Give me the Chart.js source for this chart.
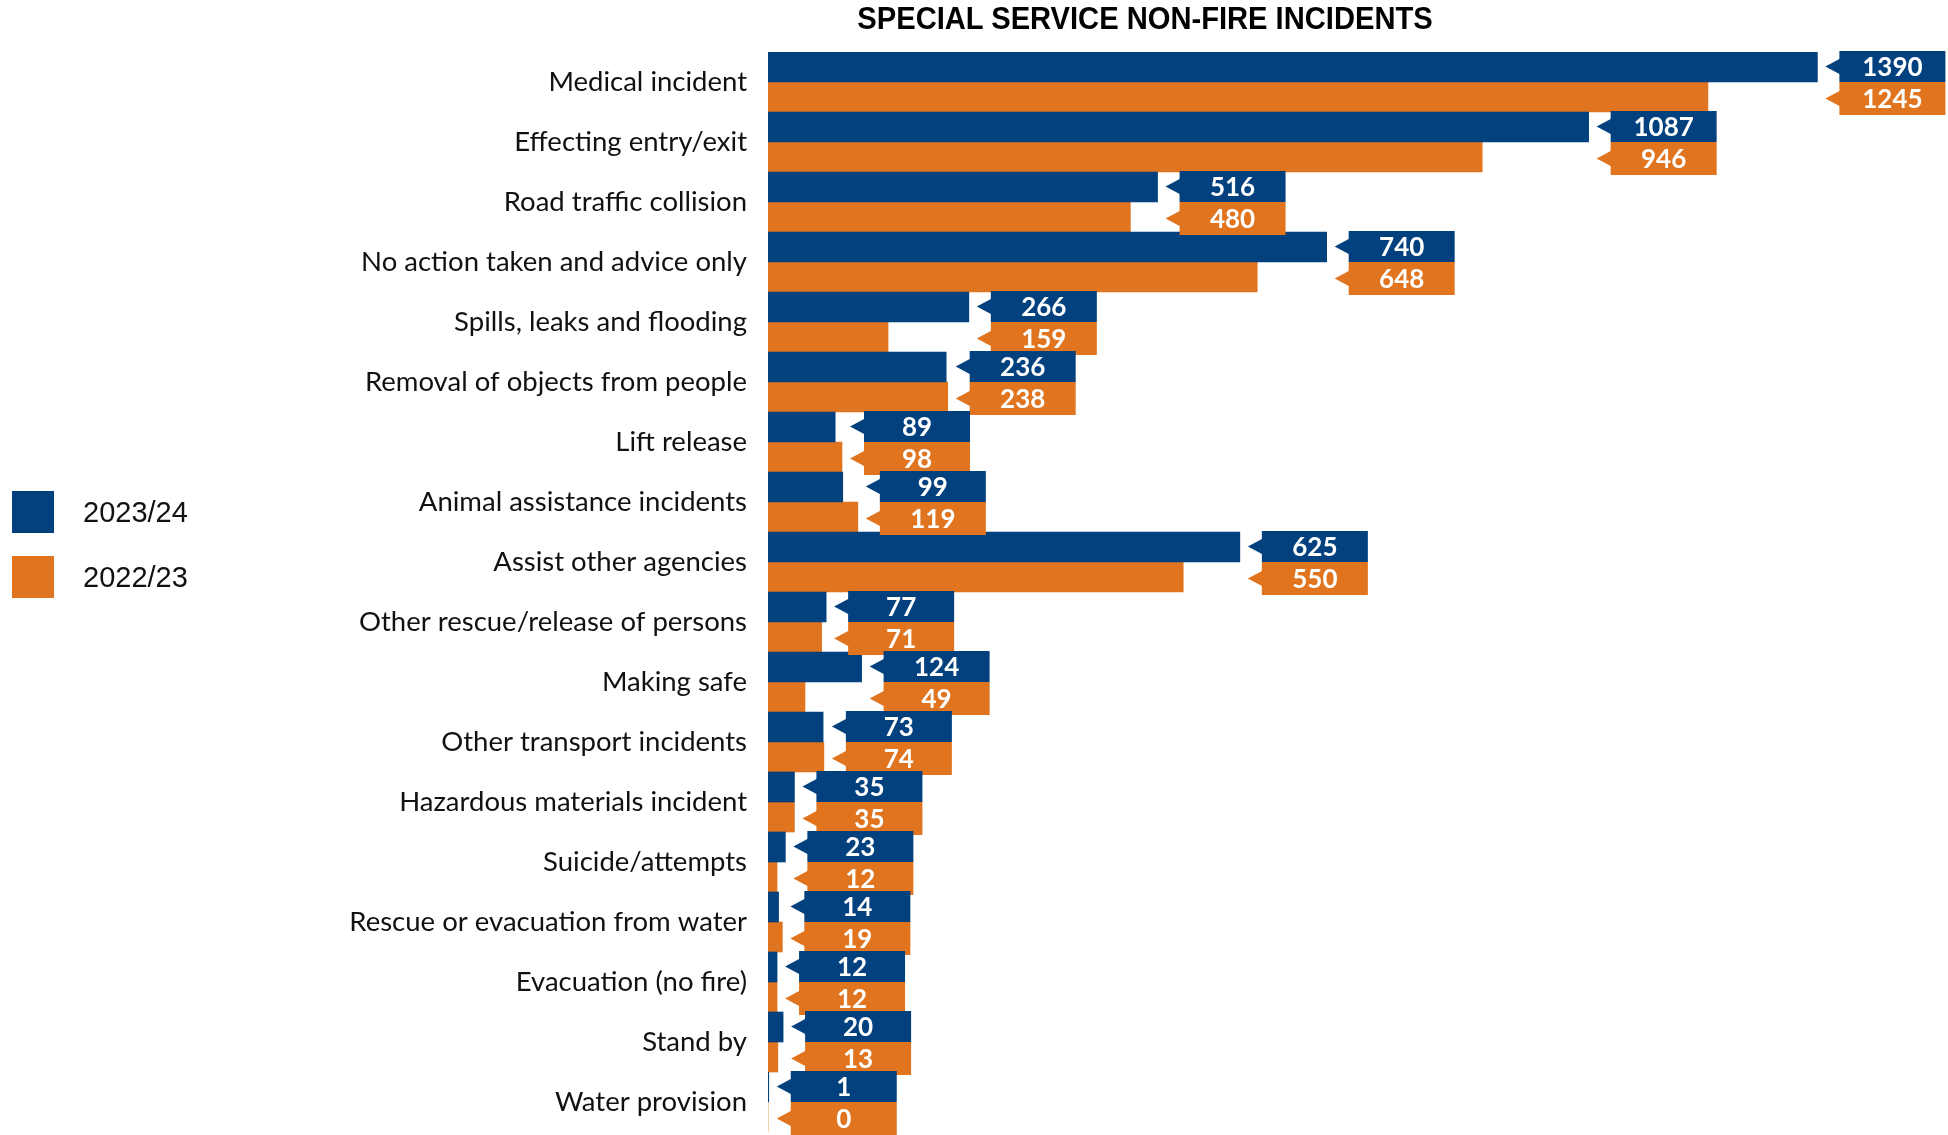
<!DOCTYPE html>
<html>
<head>
<meta charset="utf-8">
<title>Special service non-fire incidents</title>
<script src="https://cdn.jsdelivr.net/npm/chart.js@4.4.1/dist/chart.umd.min.js"></script>
<style>
    body { margin: 0; background: #fff; }
    .wrap { position: relative; width: 1948px; height: 1135px; }
    .chart-title {
        position: absolute; left: 1145px; top: 1px; transform: translateX(-50%) scaleX(0.94);
        font-family: "Liberation Sans Narrow", "Liberation Sans", sans-serif;
        font-weight: bold; font-size: 31px; color: #000; white-space: nowrap;
    }
    .legend { position: absolute; left: 12px; top: 491px; font-family: "Liberation Sans", Arial, sans-serif; }
    .legend-item { display: flex; align-items: center; height: 42px; margin-bottom: 23px; }
    .legend-item .swatch { width: 42px; height: 42px; margin-right: 29px; }
    .legend-item span { font-size: 29px; color: #111; }
</style>
</head>
<body>
<div class="wrap">
    <canvas id="incidentChart"></canvas>
    <div class="chart-title">SPECIAL SERVICE NON-FIRE INCIDENTS</div>
    <div class="legend" id="legend"></div>
</div>
<script>
/* ================= DATA ================= */
const categories = [
    'Medical incident', 'Effecting entry/exit', 'Road traffic collision',
    'No action taken and advice only', 'Spills, leaks and flooding',
    'Removal of objects from people', 'Lift release', 'Animal assistance incidents',
    'Assist other agencies', 'Other rescue/release of persons', 'Making safe',
    'Other transport incidents', 'Hazardous materials incident', 'Suicide/attempts',
    'Rescue or evacuation from water', 'Evacuation (no fire)', 'Stand by', 'Water provision'
];
const seriesNames = ['2023/24', '2022/23'];
const values2023 = [1390, 1087, 516, 740, 266, 236, 89, 99, 625, 77, 124, 73, 35, 23, 14, 12, 20, 1];
const values2022 = [1245, 946, 480, 648, 159, 238, 98, 119, 550, 71, 49, 74, 35, 12, 19, 12, 13, 0];

const BLUE = '#02417e';
const ORANGE = '#e1741e';

/* ================= VALUE CALLOUTS ================= */
// box with a left pointing notch, placed after the longer bar of each category
const calloutPlugin = {
    id: 'callouts',
    afterDatasetsDraw(chart) {
        const ctx = chart.ctx;
        const metaA = chart.getDatasetMeta(0);
        const metaB = chart.getDatasetMeta(1);
        const boxW = 106, arrowW = 14, gap = 8;

        ctx.save();
        ctx.font = 'bold 26px Lato';
        ctx.textAlign = 'center';
        ctx.textBaseline = 'middle';

        categories.forEach((c, i) => {
            const barA = metaA.data[i];
            const barB = metaB.data[i];
            const tipX = Math.max(barA.x, barB.x) + gap;
            const boxX = tipX + arrowW;

            [[barA, BLUE, values2023[i], -1, 0], [barB, ORANGE, values2022[i], 0, 3]].forEach(([bar, color, val, padTop, padBottom]) => {
                const top = bar.y - bar.height / 2 + padTop;
                const bottom = bar.y + bar.height / 2 + padBottom;
                const mid = (top + bottom) / 2;
                ctx.fillStyle = color;
                ctx.fillRect(boxX, top, boxW, bottom - top);
                ctx.beginPath();
                ctx.moveTo(tipX, mid);
                ctx.lineTo(boxX + 1, mid - 8);
                ctx.lineTo(boxX + 1, mid + 8);
                ctx.closePath();
                ctx.fill();
                ctx.fillStyle = '#fff';
                ctx.fillText(String(val), boxX + boxW / 2, mid + 1);
            });
        });
        ctx.restore();
    }
};

/* ================= LEGEND ================= */
function renderLegend() {
    const legend = document.getElementById('legend');
    const colors = [BLUE, ORANGE];
    legend.innerHTML = seriesNames.map((name, i) => `
        <div class="legend-item">
            <div class="swatch" style="background:${colors[i]}"></div>
            <span>${name}</span>
        </div>
    `).join('');
}

/* ================= CHART ================= */
function renderChart() {
    const canvas = document.getElementById('incidentChart');
    new Chart(canvas, {
        type: 'bar',
        data: {
            labels: categories,
            datasets: [
                { label: seriesNames[0], data: values2023, backgroundColor: BLUE },
                { label: seriesNames[1], data: values2022, backgroundColor: ORANGE }
            ]
        },
        options: {
            indexAxis: 'y',
            responsive: true,
            maintainAspectRatio: false,
            animation: false,
            datasets: { bar: { categoryPercentage: 1, barPercentage: 1 } },
            layout: { padding: { top: 52, bottom: 3, left: 0, right: 0 } },
            plugins: {
                legend: { display: false },
                tooltip: { enabled: false }
            },
            scales: {
                x: { display: false, min: 0, max: 1563 },
                y: {
                    grid: { display: false, drawTicks: false },
                    border: { display: false },
                    ticks: {
                        color: '#111',
                        padding: 21,
                        font: { family: 'Lato', size: 27.5 }
                    },
                    afterFit(scale) {
                        // fixed gutter for the category names, no extra label padding top/bottom
                        scale.width = 768;
                        scale.paddingTop = 0;
                        scale.paddingBottom = 0;
                    }
                }
            }
        },
        plugins: [calloutPlugin]
    });
}

renderLegend();
renderChart();
</script>
</body>
</html>
